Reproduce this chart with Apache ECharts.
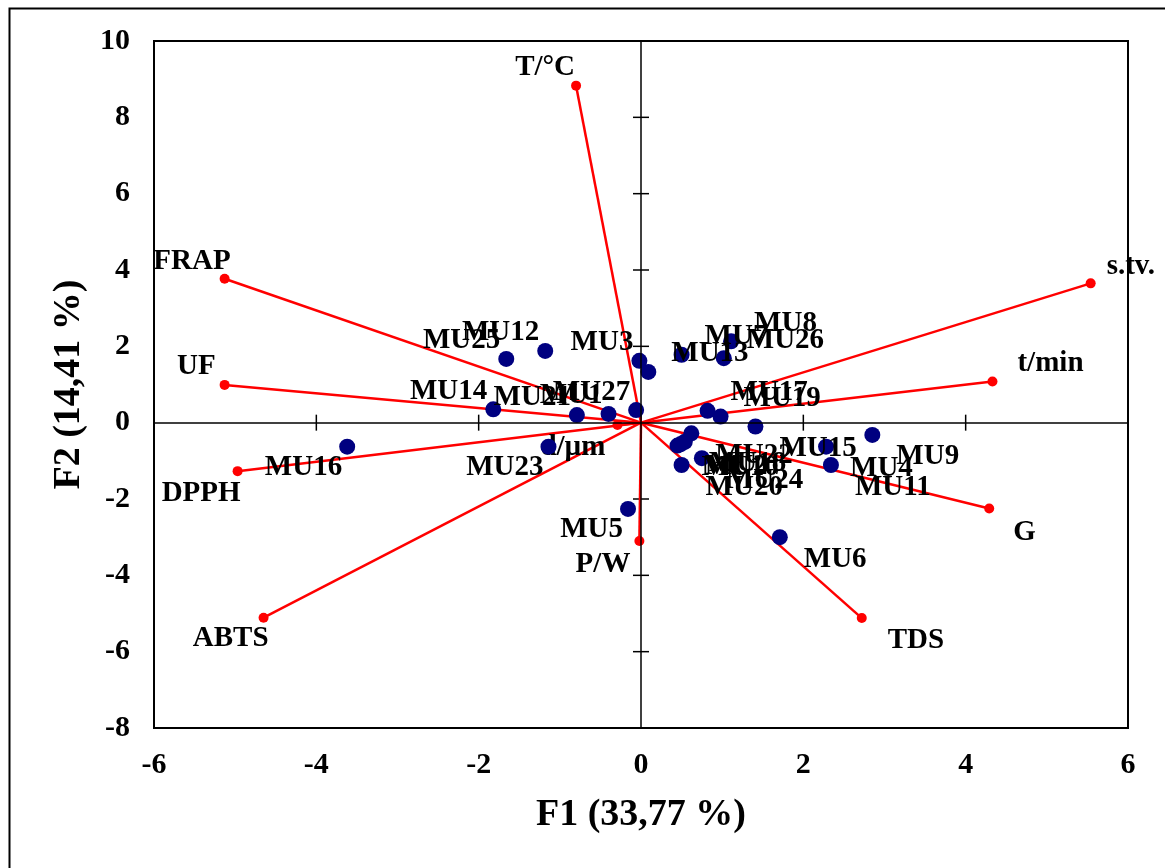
<!DOCTYPE html>
<html>
<head>
<meta charset="utf-8">
<script src="https://cdn.jsdelivr.net/npm/echarts@6/dist/echarts.min.js"></script>
<style>html,body{margin:0;padding:0;background:#fff;}#chart{width:1165px;height:868px;}</style>
</head>
<body>
<div id="chart"></div>
<script>
// ---- Data ----
const xTicks = [-6, -4, -2, 0, 2, 4, 6];
const yTicks = [-8, -6, -4, -2, 0, 2, 4, 6, 8, 10];
const xTitle = 'F1 (33,77 %)';
const yTitle = 'F2 (14,41 %)';

// Variables (loadings, red vectors)
const varNames = ['T/°C', 'FRAP', 'UF', 'DPPH', 'ABTS', 'P/W', 'd/µm', 'TDS', 'G', 't/min', 's.tv.'];
const varF1 = [-0.80, -5.13, -5.13, -4.97, -4.65, -0.02, -0.29, 2.72, 4.29, 4.33, 5.54];
const varF2 = [8.83, 3.77, 0.99, -1.27, -5.11, -3.10, -0.06, -5.12, -2.25, 1.08, 3.65];

// Observations (blue points)
const obsNames = ['MU25', 'MU12', 'MU3', 'MU13', 'MU14', 'MU21', 'MU1', 'MU27', 'MU23', 'MU16', 'MU5',
  'MU7', 'MU26', 'MU8', 'MU17', 'MU19', 'MU15', 'MU22', 'MU18', 'MU10', 'MU2', 'MU24', 'MU20',
  'MU4', 'MU11', 'MU9', 'MU6'];
const obsF1 = [-1.66, -1.18, -0.02, 0.09, -1.82, -0.79, -0.40, -0.06, -1.14, -3.62, -0.16,
  0.50, 1.02, 1.11, 0.82, 0.98, 1.41, 0.62, 0.54, 0.45, 0.49, 0.75, 0.50,
  2.28, 2.34, 2.85, 1.71];
const obsF2 = [1.67, 1.88, 1.62, 1.33, 0.35, 0.20, 0.23, 0.33, -0.63, -0.63, -2.26,
  1.78, 1.69, 2.13, 0.31, 0.16, -0.10, -0.28, -0.50, -0.60, -0.56, -0.93, -1.11,
  -0.63, -1.11, -0.32, -3.00];

// ---- Label layout (not data) ----
const varLabelLayout = {
  'T/°C': ['right', -1, -18], 'FRAP': ['right', 6, -17], 'UF': ['right', -9, -18],
  'DPPH': ['right', 3, 22], 'ABTS': ['right', 5, 21], 'P/W': ['right', -9, 24],
  'd/µm': ['right', -12, 23], 'TDS': ['left', 26, 22], 'G': ['left', 24, 24],
  't/min': ['left', 25, -18], 's.tv.': ['left', 16, -17]
};
const sideLayout = {
  tl: ['right', -6, -18], tr: ['left', 23, -18],
  bl: ['right', -5, 21], br: ['left', 24, 22]
};
const obsSide = {
  MU25: 'tl', MU12: 'tl', MU3: 'tl', MU14: 'tl', MU21: 'tl', MU1: 'tl', MU27: 'tl',
  MU23: 'bl', MU16: 'bl', MU5: 'bl',
  MU13: 'tr', MU7: 'tr', MU26: 'tr', MU8: 'tr', MU17: 'tr', MU19: 'tr'
};

const FONT = 'Liberation Serif, Times New Roman, serif';

function labelFor(layout) {
  return {
    show: true, formatter: '{b}', position: 'inside', align: layout[0], verticalAlign: 'middle',
    offset: [layout[1], layout[2]], opacity: 1,
    color: '#000', fontFamily: FONT, fontWeight: 'bold', fontSize: 29
  };
}

const varData = varNames.map((n, i) => ({
  name: n, value: [varF1[i], varF2[i]], label: labelFor(varLabelLayout[n])
}));
const obsData = obsNames.map((n, i) => ({
  name: n, value: [obsF1[i], obsF2[i]], label: labelFor(sideLayout[obsSide[n] || 'br'])
}));
const vecData = varNames.map((n, i) => ({ coords: [[0, 0], [varF1[i], varF2[i]]] }));

const chart = echarts.init(document.getElementById('chart'), null, { renderer: 'canvas' });

const tickRender = (isX) => function (params, api) {
  const v = api.value(isX ? 0 : 1);
  const p = api.coord(isX ? [v, 0] : [0, v]);
  const L = 8;
  const shape = isX
    ? { x1: p[0], y1: p[1] - L, x2: p[0], y2: p[1] + L }
    : { x1: p[0] - L, y1: p[1], x2: p[0] + L, y2: p[1] };
  return { type: 'line', shape: shape, style: { stroke: '#000', lineWidth: 1.5 } };
};

chart.setOption({
  animation: false,
  backgroundColor: '#fff',
  graphic: [{
    type: 'rect', left: 7, top: 6, silent: true,
    shape: { x: 0, y: 0, width: 1200, height: 900 },
    style: { fill: 'none', stroke: '#000', lineWidth: 2 }
  }],
  grid: {
    left: 154, right: 37, top: 41, bottom: 140,
    show: true, borderColor: '#000', borderWidth: 2, backgroundColor: 'transparent'
  },
  xAxis: {
    type: 'value', min: xTicks[0], max: xTicks[xTicks.length - 1], interval: 2,
    axisLine: { show: false, onZero: false }, axisTick: { show: false }, splitLine: { show: false },
    axisLabel: { color: '#000', fontFamily: FONT, fontWeight: 'bold', fontSize: 30, margin: 22 },
    name: xTitle, nameLocation: 'middle', nameGap: 68,
    nameTextStyle: { color: '#000', fontFamily: FONT, fontWeight: 'bold', fontSize: 38 }
  },
  yAxis: {
    type: 'value', min: yTicks[0], max: yTicks[yTicks.length - 1], interval: 2,
    axisLine: { show: false, onZero: false }, axisTick: { show: false }, splitLine: { show: false },
    axisLabel: { color: '#000', fontFamily: FONT, fontWeight: 'bold', fontSize: 30, margin: 24 },
    name: yTitle, nameLocation: 'middle', nameGap: 66, nameRotate: 90,
    nameTextStyle: { color: '#000', fontFamily: FONT, fontWeight: 'bold', fontSize: 38 }
  },
  series: [
    {
      type: 'custom', coordinateSystem: 'cartesian2d', silent: true, z: 1,
      data: xTicks.map(v => [v, 0]), renderItem: tickRender(true),
      markLine: {
        silent: true, symbol: 'none', label: { show: false },
        lineStyle: { color: '#000', width: 1.5, type: 'solid' },
        data: [{ xAxis: 0 }, { yAxis: 0 }]
      }
    },
    {
      type: 'custom', coordinateSystem: 'cartesian2d', silent: true, z: 1,
      data: yTicks.map(v => [0, v]), renderItem: tickRender(false)
    },
    {
      type: 'lines', coordinateSystem: 'cartesian2d', z: 2, silent: true,
      lineStyle: { color: '#ff0000', width: 2.5, opacity: 1 },
      data: vecData
    },
    {
      type: 'scatter', z: 3, symbol: 'circle', symbolSize: 10,
      itemStyle: { color: '#ff0000', opacity: 1 },
      data: varData
    },
    {
      type: 'scatter', z: 4, symbol: 'circle', symbolSize: 16,
      itemStyle: { color: '#000080', opacity: 1 },
      data: obsData
    }
  ]
});
</script>
</body>
</html>
